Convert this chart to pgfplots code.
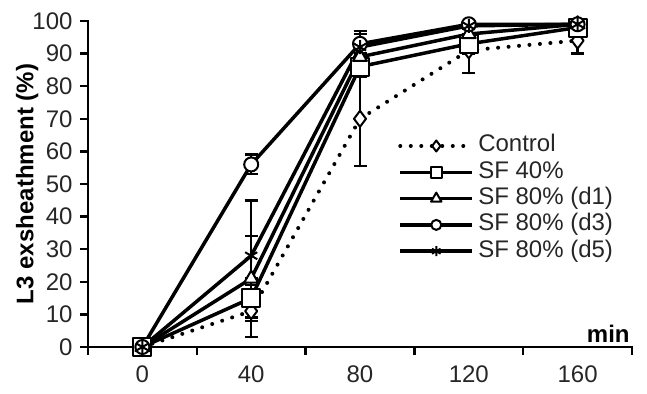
\documentclass[border=0pt]{standalone}
\usepackage{fontspec}
\setmainfont{Liberation Sans}
\usepackage{pgfplots}
\pgfplotsset{compat=1.18}
\begin{document}
\begin{tikzpicture}
\begin{axis}[
 scale only axis, width=544bp, height=326bp,
 xmin=-0.5, xmax=4.5, ymin=0, ymax=100,
 clip=false,
 axis lines=left, axis line style={-, line width=2.5bp, line cap=rect},
 xtick={-0.5,0.5,1.5,2.5,3.5,4.5}, xticklabels={0,40,80,120,160,{}},
 xticklabel style={xshift=54.4bp, yshift=-7bp},
 yticklabel style={xshift=-4bp},
 ytick={0,10,...,100},
 tick align=outside, major tick length=8bp,
 tick style={line width=2.5bp, black},
 /pgf/number format/assume math mode=true,
 tick label style={font=\fontsize{24bp}{28bp}\selectfont, text=black!85},
 ylabel={\bfseries L3 exsheathment (\%)},
 ylabel style={at={(axis description cs:-0.112,0.5)}, anchor=center, font=\fontsize{24bp}{28bp}\selectfont, text=black},
 xlabel={\bfseries min},
 xlabel style={at={(axis description cs:0.996,0.015)}, anchor=base east, font=\fontsize{24bp}{28bp}\selectfont, inner sep=0pt},
 every axis plot/.append style={line join=round},
 error bars/y dir=both, error bars/y explicit,
 error bars/error bar style={line width=2.5bp, solid, black},
 error bars/error mark options={rotate=90, mark size=6.5bp, line width=2.5bp, solid, black},
 legend cell align=left,
 legend style={at={(axis cs:2.35,65.4)}, anchor=north west, draw=none, fill=none, inner sep=0pt,
   font=\fontsize{24bp}{28bp}\selectfont, text=black!85, row sep=2.3bp,
   nodes={inner sep=0pt, text height=18bp, text depth=6bp},
   /tikz/every odd column/.append style={column sep=4bp}},
 legend image code/.code={
   \draw[mark repeat=2, mark phase=2]
     plot coordinates {(0bp,0bp) (36bp,0bp) (72bp,0bp)};
 },
]
% Control
\addplot[black, line width=4bp, dash pattern=on 0pt off 10.5bp, line cap=round,
  mark=diamond*, mark size=8bp, mark options={fill=white, solid, line width=2bp},
  legend image post style={mark size=5.5bp}]
  coordinates {(0,0) +- (0,0) (1,11) +- (0,8) (2,70) +- (0,14.5) (3,91) +- (0,7) (4,94) +- (0,4)};
\addlegendentry{Control}
% SF 40%
\addplot[black, line width=3.5bp, mark=square*, mark size=9bp, mark options={fill=white, line width=2bp},
  legend image post style={mark size=5.5bp}]
  coordinates {(0,0) +- (0,0) (1,15) +- (0,6) (2,86) +- (0,3) (3,93) +- (0,3) (4,98) +- (0,1)};
\addlegendentry{SF 40\%}
% SF 80% d1
\addplot[black, line width=3.5bp, mark=triangle*, mark size=8bp, mark options={fill=white, line width=2bp},
  legend image post style={mark size=6bp}]
  coordinates {(0,0) +- (0,0) (1,21) +- (0,13) (2,89) +- (0,4) (3,96) +- (0,2) (4,99) +- (0,1)};
\addlegendentry{SF 80\% (d1)}
% SF 80% d3
\addplot[black, line width=3.5bp, mark=*, mark size=7bp, mark options={fill=white, line width=2bp},
  legend image post style={mark size=5bp}]
  coordinates {(0,0) +- (0,0) (1,56) +- (0,3) (2,93) +- (0,3) (3,99) +- (0,1) (4,99) +- (0,1)};
\addlegendentry{SF 80\% (d3)}
% SF 80% d5
\addplot[black, line width=3.5bp, mark=asterisk, mark size=7bp, mark options={line width=2bp},
  legend image post style={mark size=5bp}]
  coordinates {(0,0) +- (0,0) (1,28) +- (0,17) (2,92) +- (0,5) (3,98.5) +- (0,1) (4,99) +- (0,1)};
\addlegendentry{SF 80\% (d5)}
\end{axis}
\pgfresetboundingbox
\path (-88bp,-47bp) rectangle (559bp,347bp);
\end{tikzpicture}
\end{document}
